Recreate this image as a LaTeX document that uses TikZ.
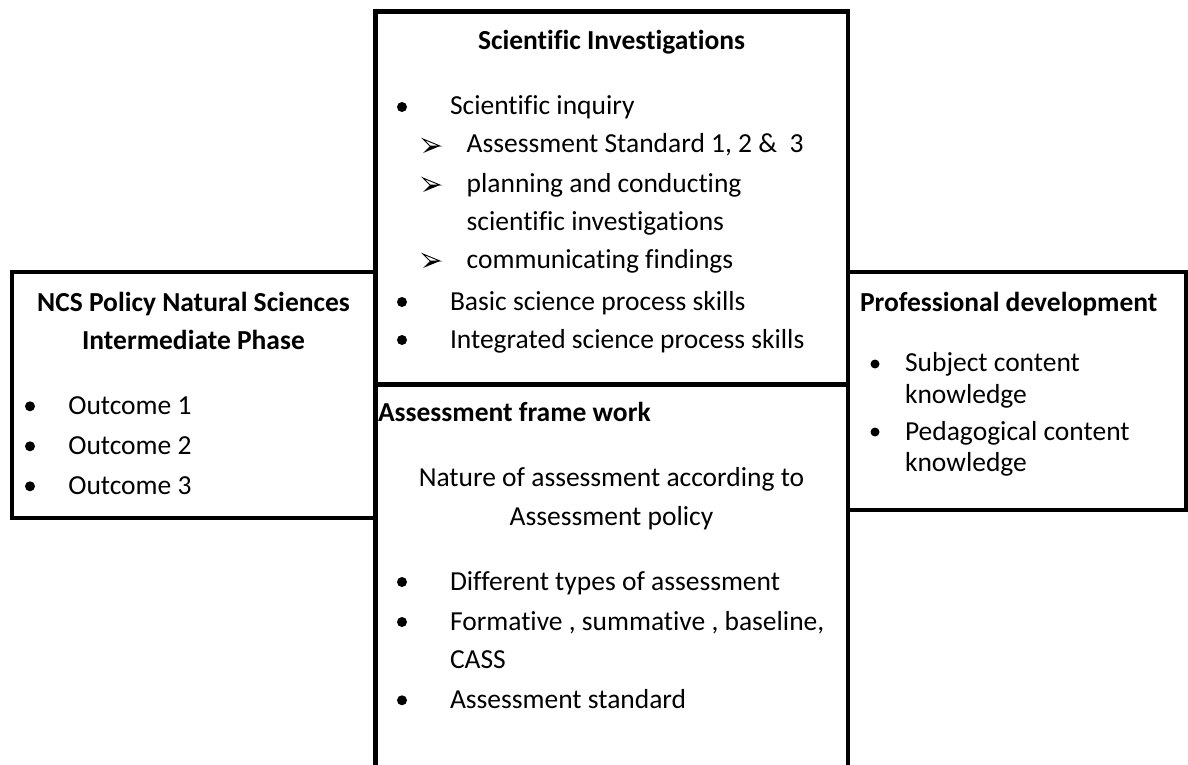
\documentclass[tikz,border=0pt]{standalone}
\usepackage{fontspec}
\setmainfont{Carlito}[Ligatures={NoCommon,NoRequired,NoContextual}]
\begin{document}
\begin{tikzpicture}[x=1pt,y=-1pt,
  frame/.style={draw, line width=4.6pt, inner sep=0pt, outer sep=0pt, anchor=north west},
  txt/.style={inner sep=0pt, outer sep=0pt, anchor=base west, font=\fontsize{27.5}{33}\selectfont},
  head/.style={txt, font=\fontsize{27.5}{33}\selectfont\bfseries},
  ctr/.style={txt, anchor=base},
  dot/.style={circle, fill, inner sep=0pt, outer sep=0pt, minimum size=10pt},
  arrowmark/.pic={
    \fill (0,0) -- (17,-7) -- (7,-7) -- cycle;
    \draw[line width=0.9pt, line join=miter] (0,-14) -- (17,-7) -- (7,-7) -- cycle;
  }
]
\clip (0,0) rectangle (1188,765);

% frames
\node[frame, minimum width=363.5pt, minimum height=246pt] (ncs) at (12,272) {};
\node[frame, minimum width=338pt, minimum height=238pt] (prof) at (848,272) {};
\node[frame, minimum width=472.5pt, minimum height=372.5pt] (sci) at (375.5,11.5) {};
\node[frame, minimum width=472.5pt, minimum height=420pt] (assess) at (375.5,385) {};

% Scientific Investigations
\node[head, anchor=base] (sciT) at (611.5,50) {Scientific Investigations};
\node[dot] (b1) at (402,107) {};
\node[txt] (s1) at (450,115) {Scientific inquiry};
\pic at (423,153) {arrowmark};
\node[txt] (s2) at (466.7,153) {Assessment Standard 1, 2 \&\ \ 3};
\pic at (423,192) {arrowmark};
\node[txt] (s3) at (466.7,192) {planning and conducting};
\node[txt] (s4) at (466.7,230) {scientific investigations};
\pic at (423,268) {arrowmark};
\node[txt] (s5) at (466.7,268) {communicating findings};
\node[dot] (b2) at (402,302) {};
\node[txt] (s6) at (450,310) {Basic science process skills};
\node[dot] (b3) at (402,340) {};
\node[txt] (s7) at (450,348) {Integrated science process skills};

% NCS Policy
\node[head, anchor=base] (ncsT1) at (193.5,311.7) {NCS Policy Natural Sciences};
\node[head, anchor=base] (ncsT2) at (193.5,349.3) {Intermediate Phase};
\node[dot] (c1) at (30,406.3) {};
\node[txt] (o1) at (68.3,414.3) {Outcome 1};
\node[dot] (c2) at (30,446.3) {};
\node[txt] (o2) at (68.3,454.3) {Outcome 2};
\node[dot] (c3) at (30,486.3) {};
\node[txt] (o3) at (68.3,494.3) {Outcome 3};

% Professional development
\node[head] (profT) at (860,311.7) {Professional development};
\node[dot, minimum size=9pt] (d1) at (875,364) {};
\node[txt] (p1) at (905,371.7) {Subject content};
\node[txt] (p2) at (905,403.3) {knowledge};
\node[dot, minimum size=9pt] (d2) at (875,432) {};
\node[txt] (p3) at (905,440) {Pedagogical content};
\node[txt] (p4) at (905,471.7) {knowledge};

% Assessment frame work
\node[head] (assT) at (378,421.7) {Assessment frame work};
\node[ctr] (n1) at (611.5,486.7) {Nature of assessment according to};
\node[ctr] (n2) at (611.5,525) {Assessment policy};
\node[dot] (e1) at (402,582) {};
\node[txt] (f1) at (450,590) {Different types of assessment};
\node[dot] (e2) at (402,622) {};
\node[txt] (f2) at (450,630) {Formative , summative , baseline,};
\node[txt] (f3) at (450,668.3) {CASS};
\node[dot] (e3) at (402,700.3) {};
\node[txt] (f4) at (450,708.3) {Assessment standard};
\end{tikzpicture}
\end{document}
